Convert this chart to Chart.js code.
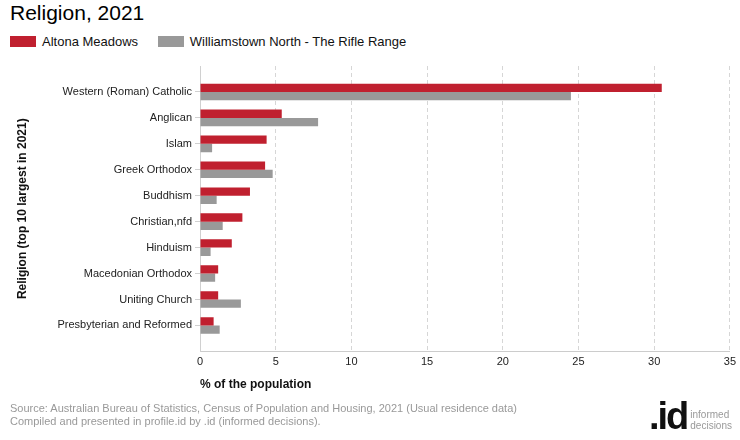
<!DOCTYPE html>
<html>
<head>
<meta charset="utf-8">
<script src="https://cdn.jsdelivr.net/npm/chart.js@4"></script>
<style>
  body { margin: 0; width: 740px; height: 440px; position: relative; background: #fff; font-family: "Liberation Sans", Arial, sans-serif; overflow: hidden; }
  #wrap { position: absolute; left: 0; top: 0; width: 740px; height: 440px; }
  .title { position: absolute; left: 10px; top: 1px; font-size: 21px; color: #000; }
  .legend { position: absolute; top: 34px; left: 10px; font-size: 13px; color: #111; }
  .legend span.item { display: inline-block; margin-right: 16px; }
  .legend span.box { display: inline-block; width: 26px; height: 11px; vertical-align: -1px; margin-right: 6px; }
  .footer { position: absolute; left: 10px; top: 402px; font-size: 11px; color: #999; line-height: 13px; }
  .logo { position: absolute; right: 8px; top: 401px; color: #111; }
  .logo .big { font-size: 38px; font-weight: bold; letter-spacing: -2px; line-height: 31px; display: inline-block; vertical-align: top; }
  .logo .small { font-size: 10px; color: #999; display: inline-block; line-height: 11px; vertical-align: top; margin-left: 3px; margin-top: 8px; }
</style>
</head>
<body>
<div class="title">Religion, 2021</div>
<div class="legend">
  <span class="item"><span class="box" style="background:#c0202f"></span>Altona Meadows</span>
  <span class="item"><span class="box" style="background:#999999"></span>Williamstown North - The Rifle Range</span>
</div>
<div id="wrap"><canvas id="chart" width="740" height="440"></canvas></div>
<div class="footer">Source: Australian Bureau of Statistics, Census of Population and Housing, 2021 (Usual residence data)<br>Compiled and presented in profile.id by .id (informed decisions).</div>
<div class="logo"><span class="big">.id</span><span class="small">informed<br>decisions</span></div>
<script>
const categories = ['Western (Roman) Catholic', 'Anglican', 'Islam', 'Greek Orthodox', 'Buddhism',
  'Christian,nfd', 'Hinduism', 'Macedonian Orthodox', 'Uniting Church', 'Presbyterian and Reformed'];
const altonaMeadows = [30.5, 5.4, 4.4, 4.3, 3.3, 2.8, 2.1, 1.2, 1.2, 0.9];
const williamstownNorth = [24.5, 7.8, 0.8, 4.8, 1.1, 1.5, 0.7, 1.0, 2.7, 1.3];
const xTicks = [0, 5, 10, 15, 20, 25, 30, 35];

let ctx = document.getElementById('chart').getContext('2d');
let chart = new Chart(ctx, {
  type: 'bar',
  data: {
    labels: categories,
    datasets: [
      { label: 'Altona Meadows', data: altonaMeadows, backgroundColor: '#c0202f' },
      { label: 'Williamstown North - The Rifle Range', data: williamstownNorth, backgroundColor: '#999999' }
    ]
  },
  options: {
    indexAxis: 'y',
    responsive: false,
    animation: false,
    devicePixelRatio: 1,
    layout: { padding: { left: 15, right: 8, top: 66, bottom: 44 } },
    categoryPercentage: 0.64,
    barPercentage: 1,
    plugins: { legend: { display: false }, tooltip: { enabled: false } },
    scales: {
      x: {
        min: 0, max: 35,
        afterBuildTicks: axis => { axis.ticks = xTicks.map(v => ({ value: v })); },
        grid: { color: '#d6d6d6', drawTicks: false },
        border: { display: true, color: '#cccccc', dash: [4, 3] },
        ticks: { color: '#222', font: { family: 'Liberation Sans', size: 11 }, padding: 4 },
        title: { display: true, text: '% of the population', align: 'start', color: '#111',
          font: { family: 'Liberation Sans', size: 12, weight: 'bold' }, padding: { top: 5 } }
      },
      y: {
        offset: true,
        // extra half-category gap above and below, like the original
        afterUpdate: axis => { axis._startValue -= 0.5; axis._valueRange += 1; },
        afterFit: axis => { axis.width = 185; },
        grid: { display: true, offset: false, drawOnChartArea: false, drawTicks: true, tickLength: 5, tickColor: '#d0d0d0' },
        border: { display: true, color: '#d0d0d0' },
        ticks: { color: '#222', font: { family: 'Liberation Sans', size: 11 }, padding: 3 },
        title: { display: true, text: 'Religion (top 10 largest in 2021)', color: '#111',
          font: { family: 'Liberation Sans', size: 12, weight: 'bold' }, padding: 0 }
      }
    }
  }
});
</script>
</body>
</html>
